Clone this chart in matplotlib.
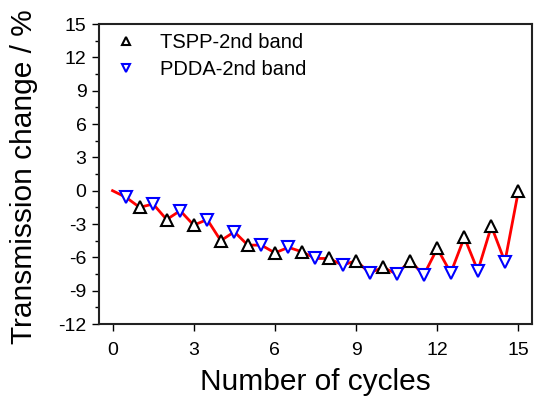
import matplotlib
matplotlib.use("Agg")
import matplotlib.pyplot as plt
import numpy as np
from matplotlib.ticker import MultipleLocator

# values
tspp_x = [1, 2, 3, 4, 5, 6, 7, 8, 9, 10, 11, 12, 13, 14, 15]
tspp_y = [-1.5, -2.6, -3.1, -4.5, -4.9, -5.6, -5.5, -6.1, -6.3, -6.9, -6.3, -5.2, -4.2, -3.2, 0.0]
pdda_x = [0.5, 1.5, 2.5, 3.5, 4.5, 5.5, 6.5, 7.5, 8.5, 9.5, 10.5, 11.5, 12.5, 13.5, 14.5]
pdda_y = [-0.6, -1.2, -1.8, -2.6, -3.7, -4.9, -5.1, -6.1, -6.7, -7.4, -7.5, -7.6, -7.4, -7.2, -6.4]
start_x = [0]
start_y = [0.0]

x_ticks = [0, 3, 6, 9, 12, 15]
y_ticks = [-12, -9, -6, -3, 0, 3, 6, 9, 12, 15]

plt.rcParams['font.family'] = ['Liberation Sans', 'DejaVu Sans']
plt.rcParams['axes.unicode_minus'] = False

fig = plt.figure(figsize=(5.36, 4.03), dpi=100)
ax = fig.add_axes([0.1847, 0.196, 0.8078, 0.7444])

# red line goes through every point in order of x
all_x = np.array(start_x + tspp_x + pdda_x, dtype=float)
all_y = np.array(start_y + tspp_y + pdda_y, dtype=float)
order = np.argsort(all_x)
ax.plot(all_x[order], all_y[order], color='red', lw=2.0, zorder=2)

ax.plot(tspp_x, tspp_y, ls='none', marker='^', ms=8.5, mfc='white', mec='black',
        mew=1.5, zorder=3, label='TSPP-2nd band')
ax.plot(pdda_x, pdda_y, ls='none', marker='v', ms=8.5, mfc='white', mec='blue',
        mew=1.5, zorder=3, label='PDDA-2nd band')

ax.set_xlim(-0.5, 15.5)
ax.set_ylim(-12, 15)
ax.set_xticks(x_ticks)
ax.set_yticks(y_ticks)
ax.yaxis.set_minor_locator(MultipleLocator(1.5))
ax.tick_params(axis='both', which='major', direction='out', length=5, width=1,
               labelsize=14)
ax.tick_params(axis='x', which='major', pad=8)
ax.tick_params(axis='y', which='major', pad=4)
ax.tick_params(axis='y', which='minor', direction='out', length=3, width=1)

for s in ax.spines.values():
    s.set_linewidth(1.5)
    s.set_color('#222222')

ax.set_xlabel('Number of cycles', fontsize=21.5)
ax.set_ylabel('Transmission change / %', fontsize=21.5)
ax.xaxis.set_label_coords(0.5, -0.145)
ax.yaxis.set_label_coords(-0.141, 0.49)

leg = ax.legend(loc='upper left', bbox_to_anchor=(0.013, 1.0), frameon=False,
                fontsize=14.5, markerscale=0.65, handlelength=1.2,
                handletextpad=1.1, labelspacing=0.38, borderaxespad=0.05)

fig.savefig('out.png', dpi=100)
